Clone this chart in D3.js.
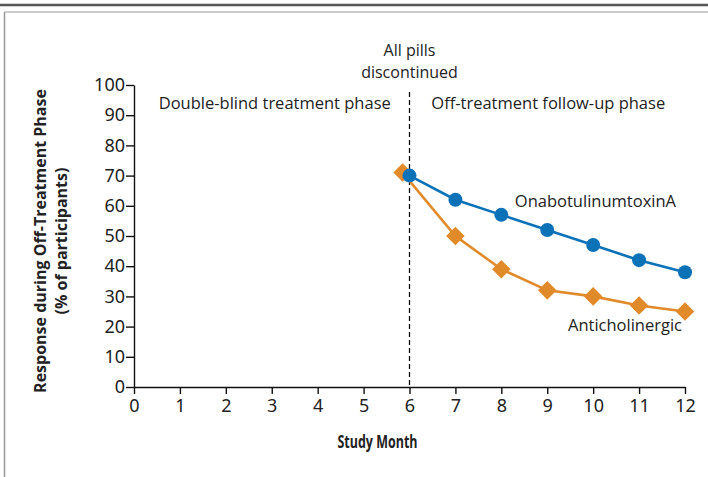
<!DOCTYPE html>
<html>
<head>
<meta charset="utf-8">
<script src="https://cdn.jsdelivr.net/npm/d3@7"></script>
<style>
  body { margin: 0; background: #fff; }
  text { font-family: "Open Sans", "Noto Sans", sans-serif; fill: #222; }
  .tick text { font-family: "Liberation Sans Narrow", "Noto Sans", sans-serif; font-size: 18px; }
</style>
</head>
<body>
<svg id="chart"></svg>
<script>
// data
const months = [6, 7, 8, 9, 10, 11, 12];
const botox = [70, 62, 57, 52, 47, 42, 38];
const antiMonths = [5.85, 7, 8, 9, 10, 11, 12];
const anticholinergic = [71, 50, 39, 32, 30, 27, 25];
const xTicks = d3.range(0, 13);
const yTicks = d3.range(0, 101, 10);

const W = 708, H = 477;
const margin = {top: 85, right: 23, bottom: 90, left: 134},
    width = W - margin.left - margin.right,
    height = H - margin.top - margin.bottom;

const root = d3.select("#chart").attr("width", W).attr("height", H);

// frame lines
root.append("line").attr("x1", 0).attr("x2", W).attr("y1", 5).attr("y2", 5)
    .attr("stroke", "#555").attr("stroke-width", 2.5);
root.append("line").attr("x1", 4.5).attr("x2", W).attr("y1", 12).attr("y2", 12)
    .attr("stroke", "#999").attr("stroke-width", 1);
root.append("line").attr("x1", 4.5).attr("x2", 4.5).attr("y1", 12).attr("y2", H)
    .attr("stroke", "#999").attr("stroke-width", 1.5);

const svg = root.append("g")
    .attr("transform", `translate(${margin.left}, ${margin.top})`);

let x = d3.scaleLinear().domain([0, 12]).range([0, width]);
let y = d3.scaleLinear().domain([0, 100]).range([height, 0]);

svg.append("g")
    .attr("transform", `translate(0, ${height})`)
    .call(d3.axisBottom(x).tickValues(xTicks).tickSize(7).tickSizeOuter(0).tickPadding(5))
    .call(g => g.selectAll("line, path").attr("stroke", "#111").attr("stroke-width", 1.4));
svg.append("g")
    .call(d3.axisLeft(y).tickValues(yTicks).tickSize(8).tickSizeOuter(0).tickPadding(1))
    .call(g => g.selectAll("line, path").attr("stroke", "#111").attr("stroke-width", 1.4));
svg.selectAll(".tick text").attr("fill", "#222");

// dashed line at month 6
svg.append("line")
    .attr("x1", x(6)).attr("x2", x(6))
    .attr("y1", 7).attr("y2", height)
    .attr("stroke", "#111").attr("stroke-width", 1.3)
    .attr("stroke-dasharray", "5,3");

// phase labels
svg.append("text").text("Double-blind treatment phase")
    .attr("x", (x(0) + x(6)) / 2 + 3).attr("y", 24)
    .attr("text-anchor", "middle").style("font-size", "16.5px");
svg.append("text").text("Off-treatment follow-up phase")
    .attr("x", (x(6) + x(12)) / 2 + 1).attr("y", 24)
    .attr("text-anchor", "middle").style("font-size", "16.5px");
svg.append("text").text("All pills")
    .attr("x", x(6)).attr("y", -29)
    .attr("text-anchor", "middle").style("font-size", "16px");
svg.append("text").text("discontinued")
    .attr("x", x(6)).attr("y", -7)
    .attr("text-anchor", "middle").style("font-size", "16px");

// series
const line = d3.line().x(d => x(d[0])).y(d => y(d[1]));
const botoxPts = months.map((m, i) => [m, botox[i]]);
const antiPts = antiMonths.map((m, i) => [m, anticholinergic[i]]);

svg.append("path").datum(antiPts).attr("d", line)
    .attr("fill", "none").attr("stroke", "#E08A2A").attr("stroke-width", 2.6);
svg.selectAll(".dia").data(antiPts).enter().append("path")
    .attr("d", d3.symbol().type(d3.symbolDiamond2).size(220))
    .attr("transform", d => `translate(${x(d[0])}, ${y(d[1])})`)
    .attr("fill", "#E08A2A");

svg.append("path").datum(botoxPts).attr("d", line)
    .attr("fill", "none").attr("stroke", "#0B72B8").attr("stroke-width", 2.6);
svg.selectAll(".dot").data(botoxPts).enter().append("circle")
    .attr("cx", d => x(d[0])).attr("cy", d => y(d[1])).attr("r", 7)
    .attr("fill", "#0B72B8");

svg.append("text").text("OnabotulinumtoxinA")
    .attr("x", x(12) - 9).attr("y", y(62) + 7)
    .attr("text-anchor", "end").style("font-size", "16.5px");
svg.append("text").text("Anticholinergic")
    .attr("x", x(12) - 3).attr("y", y(18.6))
    .attr("text-anchor", "end").style("font-size", "16.5px");

// axis titles
svg.append("text").text("Study Month")
    .attr("x", width / 2 - 32).attr("y", height + 61)
    .attr("text-anchor", "middle")
    .attr("textLength", 80).attr("lengthAdjust", "spacingAndGlyphs")
    .style("font-size", "18.5px").style("font-weight", "bold");
const yt = svg.append("text")
    .attr("transform", `translate(${-margin.left + 46}, ${height / 2 + 5}) rotate(-90)`)
    .attr("text-anchor", "middle")
    .style("font-size", "16px").style("font-weight", "bold");
yt.append("tspan").attr("x", 0).attr("dy", 0).text("Response during Off-Treatment Phase");
yt.append("tspan").attr("x", 0).attr("dy", 21).text("(% of participants)");
</script>
</body>
</html>
